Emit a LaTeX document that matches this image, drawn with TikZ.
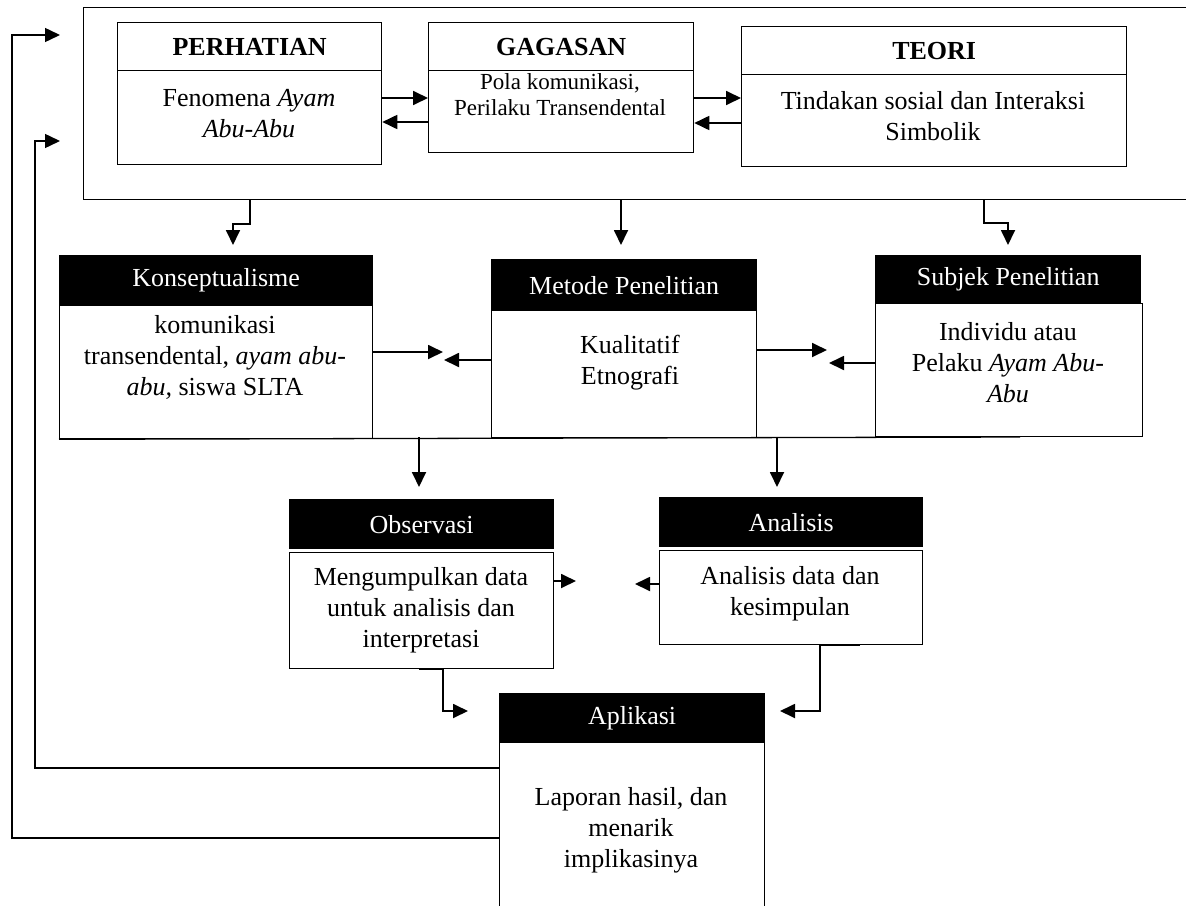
\documentclass[tikz,border=0pt]{standalone}
\usepackage{fontspec}
\setmainfont{Liberation Serif}
\usetikzlibrary{arrows.meta}
\begin{document}
\begin{tikzpicture}[x=1pt, y=-1pt,
    font=\fontsize{26}{31}\selectfont,
    box/.style={draw, line width=1.3pt, inner sep=0pt, anchor=north west},
    hdr/.style={box, fill=black, text=white},
    toptitle/.style={font=\fontsize{26}{31}\selectfont\bfseries},
    txt/.style={align=center, inner sep=0pt},
    arr/.style={line width=1.8pt, -{Triangle[length=15pt,width=14pt]}},
    fb/.style={line width=1.5pt, -{Triangle[length=15pt,width=14pt]}}]
    \useasboundingbox (0,0) rectangle (1186,905);
    \node[box, minimum width=1110pt, minimum height=192pt] (frame) at (83,7) {};
    \begin{scope}[line width=1.3pt]
    \node[box, toptitle, minimum width=264pt, minimum height=48pt] (perH) at (117,22) {PERHATIAN};
    \node[box, minimum width=264pt, minimum height=94pt] (perB) at (117,70) {};
    \node[box, toptitle, minimum width=265pt, minimum height=48pt] (gagH) at (428,22) {GAGASAN};
    \node[box, minimum width=265pt, minimum height=82pt] (gagB) at (428,70) {};
    \node[box, toptitle, minimum width=385pt, minimum height=48pt] (teoH) at (741,26) {TEORI};
    \node[box, minimum width=385pt, minimum height=92pt] (teoB) at (741,74) {};
    \node[hdr, minimum width=313pt, minimum height=50pt] (konH) at (59,255) {Konseptualisme};
    \node[box, minimum width=313pt, minimum height=133pt] (konB) at (59,305) {};
    \node[hdr, minimum width=265pt, minimum height=51pt] (metH) at (491,259) {Metode Penelitian};
    \node[box, minimum width=265pt, minimum height=127pt] (metB) at (491,310) {};
    \node[hdr, minimum width=265pt, minimum height=48pt] (subH) at (875,255) {Subjek Penelitian};
    \node[box, minimum width=267pt, minimum height=133pt] (subB) at (875,303) {};
    \node[hdr, minimum width=264pt, minimum height=49pt] (obsH) at (289,499) {Observasi};
    \node[box, minimum width=264pt, minimum height=116pt] (obsB) at (289,552) {};
    \node[hdr, minimum width=263pt, minimum height=49pt] (anaH) at (659,497) {Analisis};
    \node[box, minimum width=263pt, minimum height=94pt] (anaB) at (659,550) {};
    \node[hdr, minimum width=265pt, minimum height=49pt] (apH) at (499,693) {Aplikasi};
    \node[box, minimum width=265pt, minimum height=180pt] (apB) at (499,742) {};
    \end{scope}
    \node[txt] (perT) at (249,114) {Fenomena \textit{Ayam}\\\textit{Abu-Abu}};
    \node[txt, font=\fontsize{23}{26}\selectfont] (gagT) at (560,95) {Pola komunikasi,\\Perilaku Transendental};
    \node[txt] (teoT) at (933,116) {Tindakan sosial dan Interaksi\\Simbolik};
    \node[txt] (konT) at (215,357) {komunikasi\\transendental, \textit{ayam abu-}\\\textit{abu,} siswa SLTA};
    \node[txt] (metT) at (630,363) {Kualitatif\\Etnografi};
    \node[txt] (subT) at (1008,363) {Individu atau\\Pelaku \textit{Ayam Abu-}\\\textit{Abu}};
    \node[txt] (obsT) at (421,610) {Mengumpulkan data\\untuk analisis dan\\interpretasi};
    \node[txt] (anaT) at (790,594) {Analisis data dan\\kesimpulan};
    \node[txt] (apT) at (631,830) {Laporan hasil, dan\\menarik\\implikasinya};
    \coordinate (fb1) at (60,35);
    \coordinate (fb2) at (60,141);
    \coordinate (konIn) at (233,245);
    \coordinate (metIn) at (621,245);
    \coordinate (subIn) at (1008,245);
    \coordinate (kmR) at (443,352);
    \coordinate (kmL) at (444,360);
    \coordinate (msR) at (827,350);
    \coordinate (msL) at (829,363);
    \coordinate (baseEnd) at (1020,437);
    \coordinate (obsIn) at (419,487);
    \coordinate (anaIn) at (777,487);
    \coordinate (oaR) at (576,581);
    \coordinate (oaL) at (635,584);
    \coordinate (apIn1) at (468,711);
    \coordinate (apIn2) at (780,711);
    \draw[line width=1.3pt] (konB.south west) -- (baseEnd);
    \draw[arr] (perB.east |- 0,98) -- (gagB.west |- 0,98);
    \draw[arr] (gagB.west |- 0,122) -- (perB.east |- 0,122);
    \draw[arr] (gagB.east |- 0,98) -- (teoB.west |- 0,98);
    \draw[arr] (teoB.west |- 0,123) -- (gagB.east |- 0,123);
    \draw[arr] (frame.south -| perB.south) -- ++(0,24) -| (konIn);
    \draw[arr] (frame.south -| metIn) -- (metIn);
    \draw[arr] (frame.south -| 984,0) -- ++(0,23) -| (subIn);
    \draw[arr] (konB.east |- kmR) -- (kmR);
    \draw[arr] (metB.west |- kmL) -- (kmL);
    \draw[arr] (metB.east |- msR) -- (msR);
    \draw[arr] (subB.west |- msL) -- (msL);
    \draw[arr] (obsIn |- baseEnd) -- (obsIn);
    \draw[arr] (anaIn |- baseEnd) -- (anaIn);
    \draw[arr] (obsB.east |- oaR) -- (oaR);
    \draw[arr] (anaB.west |- oaL) -- (oaL);
    \draw[arr] (obsB.south -| 419,0) -- (obsB.south -| 443,0) |- (apIn1);
    \draw[arr] (anaB.south -| 860,0) -- (anaB.south -| 820,0) |- (apIn2);
    \draw[fb] (apB.west |- 0,768) -| ([xshift=-25pt]fb2) -- (fb2);
    \draw[fb] (apB.west |- 0,838) -| ([xshift=-48pt]fb1) -- (fb1);
\end{tikzpicture}
\end{document}
